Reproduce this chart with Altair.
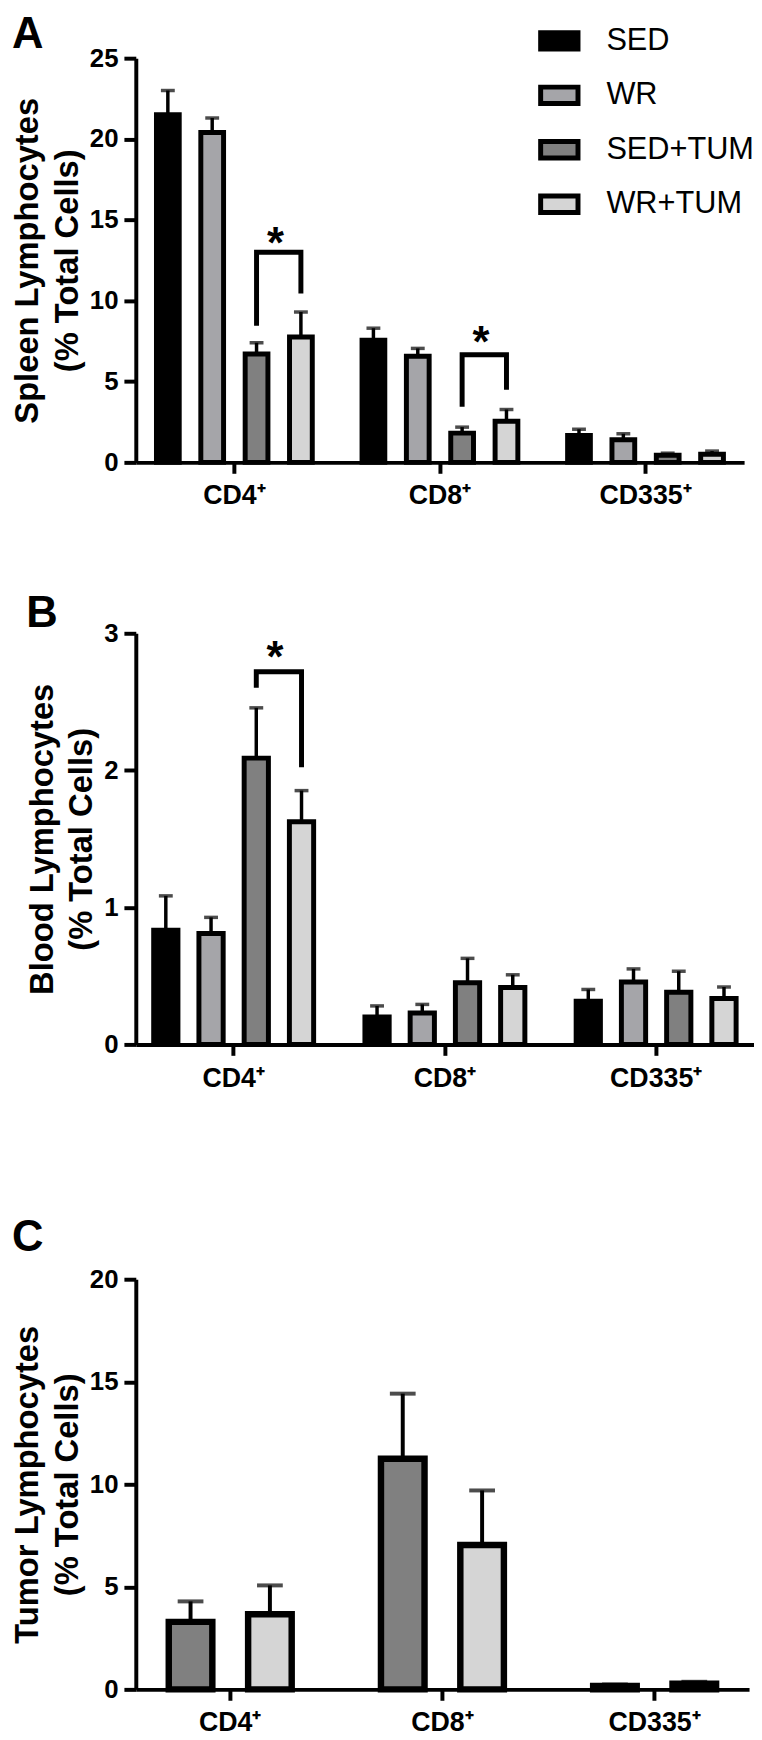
import altair as alt
import pandas as pd

FONT = "Liberation Sans"

groups = ["CD4⁺", "CD8⁺", "CD335⁺"]
series_all = ["SED", "WR", "SED+TUM", "WR+TUM"]
series_tum = ["SED+TUM", "WR+TUM"]
fills_all = ["#000000", "#a5a5a9", "#808080", "#d5d5d5"]
fills_tum = ["#808080", "#d5d5d5"]

# Panel A - spleen (mean and SEM per group)
spleen_sed = [21.5, 7.55, 1.66]
spleen_sed_err = [1.5, 0.75, 0.39]
spleen_wr = [20.4, 6.57, 1.40]
spleen_wr_err = [0.9, 0.48, 0.37]
spleen_sedtum = [6.7, 1.81, 0.44]
spleen_sedtum_err = [0.7, 0.37, 0.13]
spleen_wrtum = [7.75, 2.55, 0.50]
spleen_wrtum_err = [1.55, 0.72, 0.20]
spleen_br_group = ["CD4⁺", "CD8⁺"]
spleen_br_top = [13.0, 6.66]
spleen_br_left = [8.6, 3.6]
spleen_br_right = [10.6, 4.65]
spleen_star = [14.2, 8.05]

# Panel B - blood
blood_sed = [0.834, 0.201, 0.316]
blood_sed_err = [0.25, 0.08, 0.085]
blood_wr = [0.81, 0.23, 0.455]
blood_wr_err = [0.117, 0.062, 0.096]
blood_sedtum = [2.089, 0.45, 0.381]
blood_sedtum_err = [0.367, 0.178, 0.153]
blood_wrtum = [1.625, 0.415, 0.335]
blood_wrtum_err = [0.227, 0.093, 0.084]
blood_br_group = ["CD4⁺"]
blood_br_top = [2.72]
blood_br_left = [2.62]
blood_br_right = [2.04]
blood_star = [2.9]

# Panel C - tumor
tumor_sedtum = [3.29, 11.25, 0.16]
tumor_sedtum_err = [1.0, 3.17, 0.08]
tumor_wrtum = [3.66, 7.04, 0.27]
tumor_wrtum_err = [1.41, 2.66, 0.10]


def bar_table(means, errs):
    rows = []
    for s in means:
        for g, m, e in zip(groups, means[s], errs[s]):
            rows.append({"group": g, "series": s, "mean": m, "upper": m + e})
    return pd.DataFrame(rows)


def bracket_table(gs, tops, lefts, rights):
    rows = []
    for i, (g, t, l, r) in enumerate(zip(gs, tops, lefts, rights)):
        rows += [
            {"id": i, "o": 0, "group": g, "series": "SED+TUM", "y": l},
            {"id": i, "o": 1, "group": g, "series": "SED+TUM", "y": t},
            {"id": i, "o": 2, "group": g, "series": "WR+TUM", "y": t},
            {"id": i, "o": 3, "group": g, "series": "WR+TUM", "y": r},
        ]
    return pd.DataFrame(rows)


def star_table(gs, ys):
    return pd.DataFrame({"group": gs, "series": ["SED+TUM"] * len(gs), "y": ys})


def panel(bdf, series_dom, fills, ymax, yvals, ytitle, width, height, letter,
          t_offset, pi, po, pi2, po2, sw, cap, rule_w, br=None, st=None,
          legend=None):
    xs = alt.Scale(domain=groups, paddingInner=pi, paddingOuter=po)
    x = alt.X("group:N", sort=groups, scale=xs,
              axis=alt.Axis(title=None, labelAngle=0, tickSize=11,
                            labelPadding=10, domainWidth=4, tickWidth=4,
                            labelFontSize=27))
    xo = alt.XOffset("series:N", sort=series_dom,
                     scale=alt.Scale(domain=series_dom, paddingInner=pi2,
                                     paddingOuter=po2))
    ys = alt.Scale(domain=[0, ymax], nice=False)
    yaxis = alt.Axis(values=yvals, title=ytitle, tickSize=12,
                     labelPadding=6, titlePadding=5, titleLineHeight=40,
                     domainWidth=4, tickWidth=4)
    bars = alt.Chart(bdf).mark_bar(stroke="black", strokeWidth=sw,
                                   strokeJoin="miter").encode(
        x=x, xOffset=xo,
        y=alt.Y("mean:Q", scale=ys, axis=yaxis),
        fill=alt.Fill("series:N", scale=alt.Scale(domain=series_dom,
                                                  range=fills),
                      legend=legend),
    )
    stems = alt.Chart(bdf).mark_rule(color="black", strokeWidth=rule_w).encode(
        x=x, xOffset=xo, y=alt.Y("mean:Q", scale=ys, axis=yaxis),
        y2="upper:Q")
    caps = alt.Chart(bdf).mark_tick(color="black", size=cap,
                                    thickness=rule_w,
                                    orient="horizontal").encode(
        x=x, xOffset=xo, y=alt.Y("upper:Q", scale=ys, axis=yaxis))
    layers = [bars, stems, caps]
    if br is not None:
        layers.append(alt.Chart(br).mark_line(
            color="black", strokeWidth=5, strokeJoin="miter",
            strokeCap="square").encode(
            x=x, xOffset=xo, y=alt.Y("y:Q", scale=ys, axis=yaxis),
            order="o:Q", detail="id:N"))
    if st is not None:
        layers.append(alt.Chart(st).mark_text(
            text="*", fontSize=44, fontWeight="bold", font=FONT,
            baseline="middle", dx=19, dy=12, color="black").encode(
            x=x, xOffset=xo, y=alt.Y("y:Q", scale=ys, axis=yaxis)))
    return alt.layer(*layers).properties(
        width=width, height=height,
        title=alt.TitleParams(letter, anchor="start", frame="bounds",
                              fontSize=44, fontWeight="bold", font=FONT,
                              color="black", offset=t_offset),
    )


dfA = bar_table(
    {"SED": spleen_sed, "WR": spleen_wr, "SED+TUM": spleen_sedtum,
     "WR+TUM": spleen_wrtum},
    {"SED": spleen_sed_err, "WR": spleen_wr_err,
     "SED+TUM": spleen_sedtum_err, "WR+TUM": spleen_wrtum_err})
dfB = bar_table(
    {"SED": blood_sed, "WR": blood_wr, "SED+TUM": blood_sedtum,
     "WR+TUM": blood_wrtum},
    {"SED": blood_sed_err, "WR": blood_wr_err,
     "SED+TUM": blood_sedtum_err, "WR+TUM": blood_wrtum_err})
dfC = bar_table(
    {"SED+TUM": tumor_sedtum, "WR+TUM": tumor_wrtum},
    {"SED+TUM": tumor_sedtum_err, "WR+TUM": tumor_wrtum_err})

legendA = alt.Legend(
    title=None, orient="none", legendX=406, legendY=-39, padding=0,
    symbolType="M-1,-0.44L1,-0.44L1,0.44L-1,0.44Z", symbolSize=1421,
    symbolStrokeColor="black", symbolStrokeWidth=5, symbolOpacity=1,
    labelFont=FONT, labelFontSize=31, labelFontWeight="normal",
    labelColor="black", labelOffset=26, rowPadding=15, labelLimit=400)

A = panel(dfA, series_all, fills_all, 25, [0, 5, 10, 15, 20, 25],
          ["Spleen Lymphocytes", "(% Total Cells)"], 614, 408, "A", -38,
          0.137, 0.048, 0.487, 0.2435, 5, 14, 3.5,
          br=bracket_table(spleen_br_group, spleen_br_top, spleen_br_left,
                           spleen_br_right),
          st=star_table(spleen_br_group, spleen_star), legend=legendA)
B = panel(dfB, series_all, fills_all, 3, [0, 1, 2, 3],
          ["Blood Lymphocytes", "(% Total Cells)"], 624, 415, "B", -16,
          0.1434, 0.035, 0.464, 0.232, 5, 14, 3.5,
          br=bracket_table(blood_br_group, blood_br_top, blood_br_left,
                           blood_br_right),
          st=star_table(blood_br_group, blood_star))
C = panel(dfC, series_tum, fills_tum, 20, [0, 5, 10, 15, 20],
          ["Tumor Lymphocytes", "(% Total Cells)"], 619, 414, "C", 6,
          0.252, 0.071, 0.451, 0.2255, 6.5, 26, 4)

res = dict(fill="independent", x="independent", y="independent",
           xOffset="independent")
inner = alt.concat(A, B, columns=1, spacing=84.5).properties(
    align="none").resolve_scale(**res)
chart = alt.concat(inner, C, columns=1, spacing=126.5).properties(
    align="none", padding={"left": 4, "top": -2.5, "right": 0, "bottom": 0}
).resolve_scale(**res).configure_view(stroke=None).configure_axis(
    grid=False, domainColor="black", tickColor="black", labelColor="black",
    titleColor="black", labelFont=FONT, titleFont=FONT,
    labelFontWeight="bold", titleFontWeight="bold", labelFontSize=26,
    titleFontSize=33)

chart.save("out.html", embed_options={"renderer": "svg", "actions": False})
